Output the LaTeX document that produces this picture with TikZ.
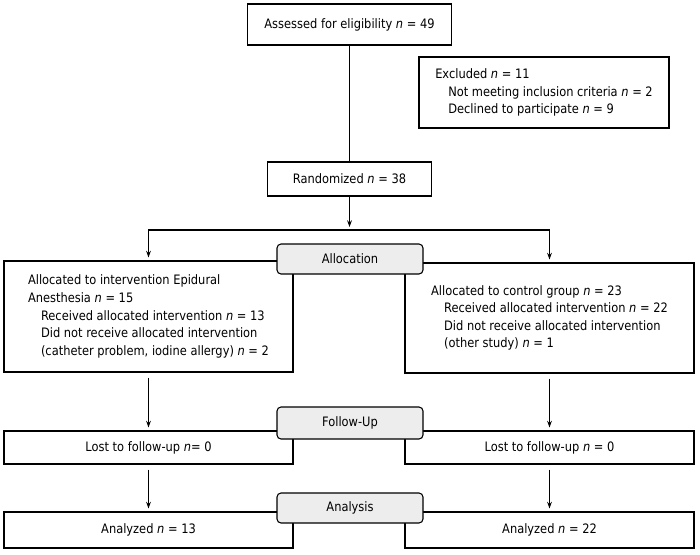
\documentclass[tikz,border=0pt]{standalone}
\usepackage{fontspec}
\setmainfont{DejaVu Sans}[FakeStretch=0.88]
\usepackage{tikz}
\usetikzlibrary{positioning,arrows.meta,calc}
\definecolor{stage1}{HTML}{EDEDED}
\newcommand{\nval}{\textit{n}}

\begin{document}
\begin{tikzpicture}[
    x=0.75pt, y=-0.75pt,
    >={Stealth[length=5pt,width=3.6pt]},
    box/.style={draw, line width=0.8pt, align=left, inner sep=0pt,
                minimum width=216.75pt,
                font=\fontsize{9.75}{13.2}\selectfont},
    stage/.style={draw, line width=0.8pt, rounded corners=3pt, fill=stage1,
                  minimum width=109.5pt, minimum height=22.5pt, inner sep=0pt,
                  font=\fontsize{9.75}{13.2}\selectfont},
    link/.style={->, line width=0.8pt, shorten >=2.25pt},
]
\useasboundingbox (0,0) rectangle (700,554);

% enrolment
\node[box, minimum width=153pt, minimum height=30.75pt]
    (assess) at (349.5,24.5) {Assessed for eligibility \nval{} = 49};
\node[box, minimum width=187.5pt, minimum height=53.25pt]
    (excl) at (544,92.5) {Excluded \nval{} = 11\\
    \hspace*{9.75pt}Not meeting inclusion criteria \nval{} = 2\\
    \hspace*{9.75pt}Declined to participate \nval{} = 9};
\node[box, minimum width=123pt, minimum height=25.5pt]
    (rand) at (349.5,179) {Randomized \nval{} = 38};

% groups
\node[box, minimum height=83.25pt]
    (grpA) at (148.5,316.5) {Allocated to intervention Epidural\\
    Anesthesia \nval{} = 15\\
    \hspace*{9.75pt}Received allocated intervention \nval{} = 13\\
    \hspace*{9.75pt}Did not receive allocated intervention\\
    \hspace*{9.75pt}(catheter problem, iodine allergy) \nval{} = 2};
\node[box, minimum height=82.5pt]
    (grpB) at (549.5,318) {Allocated to control group \nval{} = 23\\
    \hspace*{9.75pt}Received allocated intervention \nval{} = 22\\
    \hspace*{9.75pt}Did not receive allocated intervention\\
    \hspace*{9.75pt}(other study) \nval{} = 1};
\node[box, minimum height=24.75pt]
    (lostA) at (148.5,447.5) {Lost to follow-up \nval= 0};
\node[box, minimum height=24.75pt]
    (lostB) at (549.5,447.5) {Lost to follow-up \nval{} = 0};
\node[box, minimum height=27pt]
    (anaA) at (148.5,530) {Analyzed \nval{} = 13};
\node[box, minimum height=27pt]
    (anaB) at (549.5,530) {Analyzed \nval{} = 22};

% stage labels
\node[stage] (alloc) at (350,259) {Allocation};
\node[stage, minimum height=24pt] (follow) at (350,423) {Follow-Up};
\node[stage] (analysis) at (350,508) {Analysis};

\coordinate (split) at (349.5,230);
\draw[line width=0.8pt] (assess.south) -- (assess.south |- rand.north);
\draw[link] (rand) -- (split);
\draw[link] (split) -| (grpA);
\draw[link] (split) -| (grpB);
\draw[link, shorten <=3.75pt] (grpA) -- (lostA);
\draw[link, shorten <=3.75pt] (grpB) -- (lostB);
\draw[link, shorten <=3.75pt] (lostA) -- (anaA);
\draw[link, shorten <=3.75pt] (lostB) -- (anaB);
\end{tikzpicture}
\end{document}
